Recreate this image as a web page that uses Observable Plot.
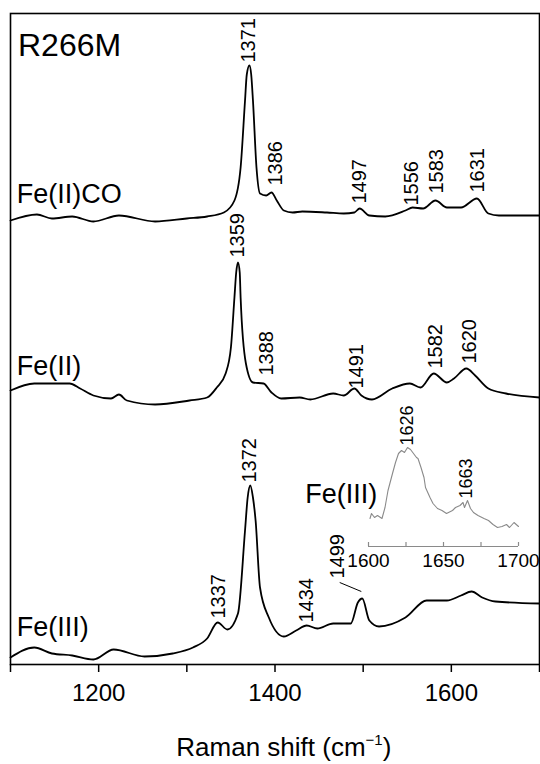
<!DOCTYPE html>
<html>
<head>
<meta charset="utf-8">
<script src="https://cdn.jsdelivr.net/npm/d3@7"></script>
<script src="https://cdn.jsdelivr.net/npm/@observablehq/plot@0.6"></script>
<style>
  body { margin: 0; background: #fff; }
  #wrap { position: relative; width: 540px; height: 764px; }
  #wrap svg { position: absolute; left: 0; top: 0; }
</style>
</head>
<body>
<div id="wrap"></div>
<script>
// ---------- data (intensity relative to each trace's own baseline, arbitrary units) ----------
const coWave = [1100,1130,1147,1170,1194,1223,1264,1300,1323,1342,1354,1361,1366,1368,1371,1373,1375,1379,1383,1390,1396,1402,1410,1420,1431,1459,1478,1490,1496,1507,1525,1548,1556,1568,1582,1595,1611,1629,1642,1654,1700];
const coInt  = [4,10,6,8,3,9,3,6,8,12,24,57,124,150,159,150,124,57,31,29,32,24,14,12,13,12,11,12,16,9,8,14,17,16,24,17,17,26,11,9,9];

const fe2Wave = [1100,1127,1167,1179,1194,1214,1223,1232,1264,1303,1323,1334,1344,1350,1354,1356,1358,1360,1361,1367,1375,1387,1396,1407,1428,1440,1466,1478,1490,1498,1510,1533,1553,1565,1580,1595,1603,1617,1627,1642,1662,1700];
const fe2Int  = [10,17,17,12,5,2,6,0,-4,0,3,13,27,53,103,128,138,128,103,37,18,17,8,2,3,1,7,5,12,5,1,12,17,13,27,18,22,32,25,12,7,3];

const fe3Wave = [1100,1127,1147,1170,1194,1217,1252,1284,1307,1323,1335,1346,1358,1366,1369,1372,1375,1378,1383,1393,1410,1424,1436,1448,1466,1486,1494,1499,1507,1518,1548,1572,1595,1611,1623,1635,1650,1700];
const fe3Int  = [0,10,4,2,-2,8,1,4,10,19,35,28,44,127,160,172,160,137,70,40,21,27,32,29,34,34,55,59,37,31,40,57,57,62,66,60,56,54];

const insetWave = [1601,1602,1604,1606,1609,1611,1613,1616,1618,1620,1622,1624,1626,1628,1630,1632,1633,1635,1637,1638,1641,1643,1646,1649,1652,1656,1658,1661,1663,1664,1666,1668,1670,1673,1677,1680,1683,1686,1689,1692,1694,1697,1700];
const insetInt  = [28,33,29,31,28,39,56,73,84,93,96,94,99,97,93,89,88,79,69,59,49,43,38,36,33,36,39,41,44,39,46,38,34,31,28,26,22,19,20,22,19,24,20];

const stateNames  = ["Fe(II)CO", "Fe(II)", "Fe(III)"];
const sampleName  = "R266M";

const coPeakLabels  = ["1371","1386","1497","1556","1583","1631"];
const coPeakWave    = [1370,1400.5,1496,1554.5,1583,1630];
const coPeakHeight  = [162,39,21,19,31,32];

const fe2PeakLabels = ["1359","1388","1491","1582","1620"];
const fe2PeakWave   = [1357.6,1390.8,1492.2,1581.8,1620.7];
const fe2PeakHeight = [143,25,12,32,37];

const fe3PeakLabels = ["1372","1337","1434","1499"];
const fe3PeakWave   = [1371.3,1336.3,1435.6,1471.5];
const fe3PeakHeight = [175,39,35,79];

const insetPeakLabels = ["1626","1663"];
const insetPeakWave   = [1626,1665];
const insetPeakHeight = [101,48];

const xTicks      = [1100,1200,1300,1400,1500,1600,1700];
const xTickLabels = [1200,1400,1600];
const insetTicks  = [1600,1625,1650,1675,1700];
const insetTickLabels = [1600,1650,1700];
const xLabel = "Raman shift (cm-1)";

// ---------- layout (stacking offsets) ----------
const offsets = [440, 264, 7];
const font = "'Liberation Sans', Arial, Helvetica, sans-serif";

const traces = [[coWave, coInt], [fe2Wave, fe2Int], [fe3Wave, fe3Int]].map(([w, v], k) =>
  w.map((wi, i) => ({w: wi, v: v[i] + offsets[k]})));

const peaks = [
  [coPeakLabels, coPeakWave, coPeakHeight],
  [fe2PeakLabels, fe2PeakWave, fe2PeakHeight],
  [fe3PeakLabels, fe3PeakWave, fe3PeakHeight]
].flatMap(([l, w, h], k) => l.map((t, i) => ({t, w: w[i], v: h[i] + offsets[k]})));

const nameHeights = [22, 26, 22];
const names = stateNames.map((t, k) => ({t, w: 1107, v: nameHeights[k] + offsets[k]}));

const main = Plot.plot({
  width: 540, height: 764,
  marginLeft: 10, marginRight: 1, marginTop: 13, marginBottom: 100,
  x: {domain: [1100, 1700]},
  y: {domain: [0, 651], axis: null},
  style: {fontFamily: font, color: "black", background: "transparent", overflow: "visible"},
  marks: [
    Plot.frame({stroke: "black", strokeWidth: 1.6}),
    Plot.axisX({ticks: xTicks, tickFormat: d => xTickLabels.includes(d) ? String(d) : "",
                tickSize: 8, tickPadding: 11, fontSize: 24, strokeWidth: 1.5, label: null}),
    ...traces.map(t => Plot.line(t, {x: "w", y: "v", stroke: "black", strokeWidth: 1.8, curve: "monotone-x"})),
    Plot.text(peaks, {x: "w", y: "v", text: "t", rotate: -90, textAnchor: "start",
                      lineAnchor: "middle", fontSize: 20, fill: "black"}),
    Plot.link([{w1: 1473.4, v1: 75 + offsets[2], w2: 1497.9, v2: 66 + offsets[2]}],
              {x1: "w1", y1: "v1", x2: "w2", y2: "v2", stroke: "black", strokeWidth: 1}),
    Plot.text(names, {x: "w", y: "v", text: "t", textAnchor: "start", lineAnchor: "bottom", fontSize: 27, fill: "black"}),
    Plot.text([sampleName], {x: 1108.5, y: 169 + offsets[0], text: d => d, textAnchor: "start",
                             lineAnchor: "bottom", fontSize: 32, fill: "black"}),
    Plot.text([xLabel], {x: 1410, y: -91, text: d => d, textAnchor: "middle",
                         lineAnchor: "bottom", fontSize: 26, fill: "black"})
  ]
});

// superscript for the axis label
d3.select(main).selectAll("text").filter(function() { return this.textContent === xLabel; })
  .each(function() {
    const t = d3.select(this);
    t.text(null);
    t.append("tspan").text("Raman shift (cm");
    t.append("tspan").attr("dy", -11).attr("font-size", 15).text("\u22121");
    t.append("tspan").attr("dy", 11).attr("font-size", 26).text(")");
  });

const inset = Plot.plot({
  width: 540, height: 764,
  marginLeft: 368, marginRight: 22, marginTop: 446, marginBottom: 218,
  x: {domain: [1600, 1700]},
  y: {domain: [0, 100], axis: null},
  style: {fontFamily: font, color: "black", background: "transparent", overflow: "visible"},
  marks: [
    Plot.ruleY([0], {stroke: "#8a8a8a", strokeWidth: 1.2}),
    Plot.ruleX(insetTicks, {y1: 0, y2: 4, stroke: "#8a8a8a", strokeWidth: 1.2}),
    Plot.axisX({ticks: insetTickLabels, tickSize: 0, tickPadding: 7, fontSize: 19, label: null, tickFormat: d => String(d)}),
    Plot.line(insetWave.map((w, i) => ({w, v: insetInt[i]})),
              {x: "w", y: "v", stroke: "#8a8a8a", strokeWidth: 1.1}),
    Plot.text(insetPeakLabels.map((t, i) => ({t, w: insetPeakWave[i], v: insetPeakHeight[i]})),
              {x: "w", y: "v", text: "t", rotate: -90, textAnchor: "start", lineAnchor: "middle", fontSize: 18, fill: "black"}),
    Plot.text([stateNames[2]], {x: 1605.8, y: 44, text: d => d, textAnchor: "end", lineAnchor: "bottom", fontSize: 27, fill: "black"})
  ]
});

const wrap = document.getElementById("wrap");
wrap.appendChild(main);
wrap.appendChild(inset);
</script>
</body>
</html>
